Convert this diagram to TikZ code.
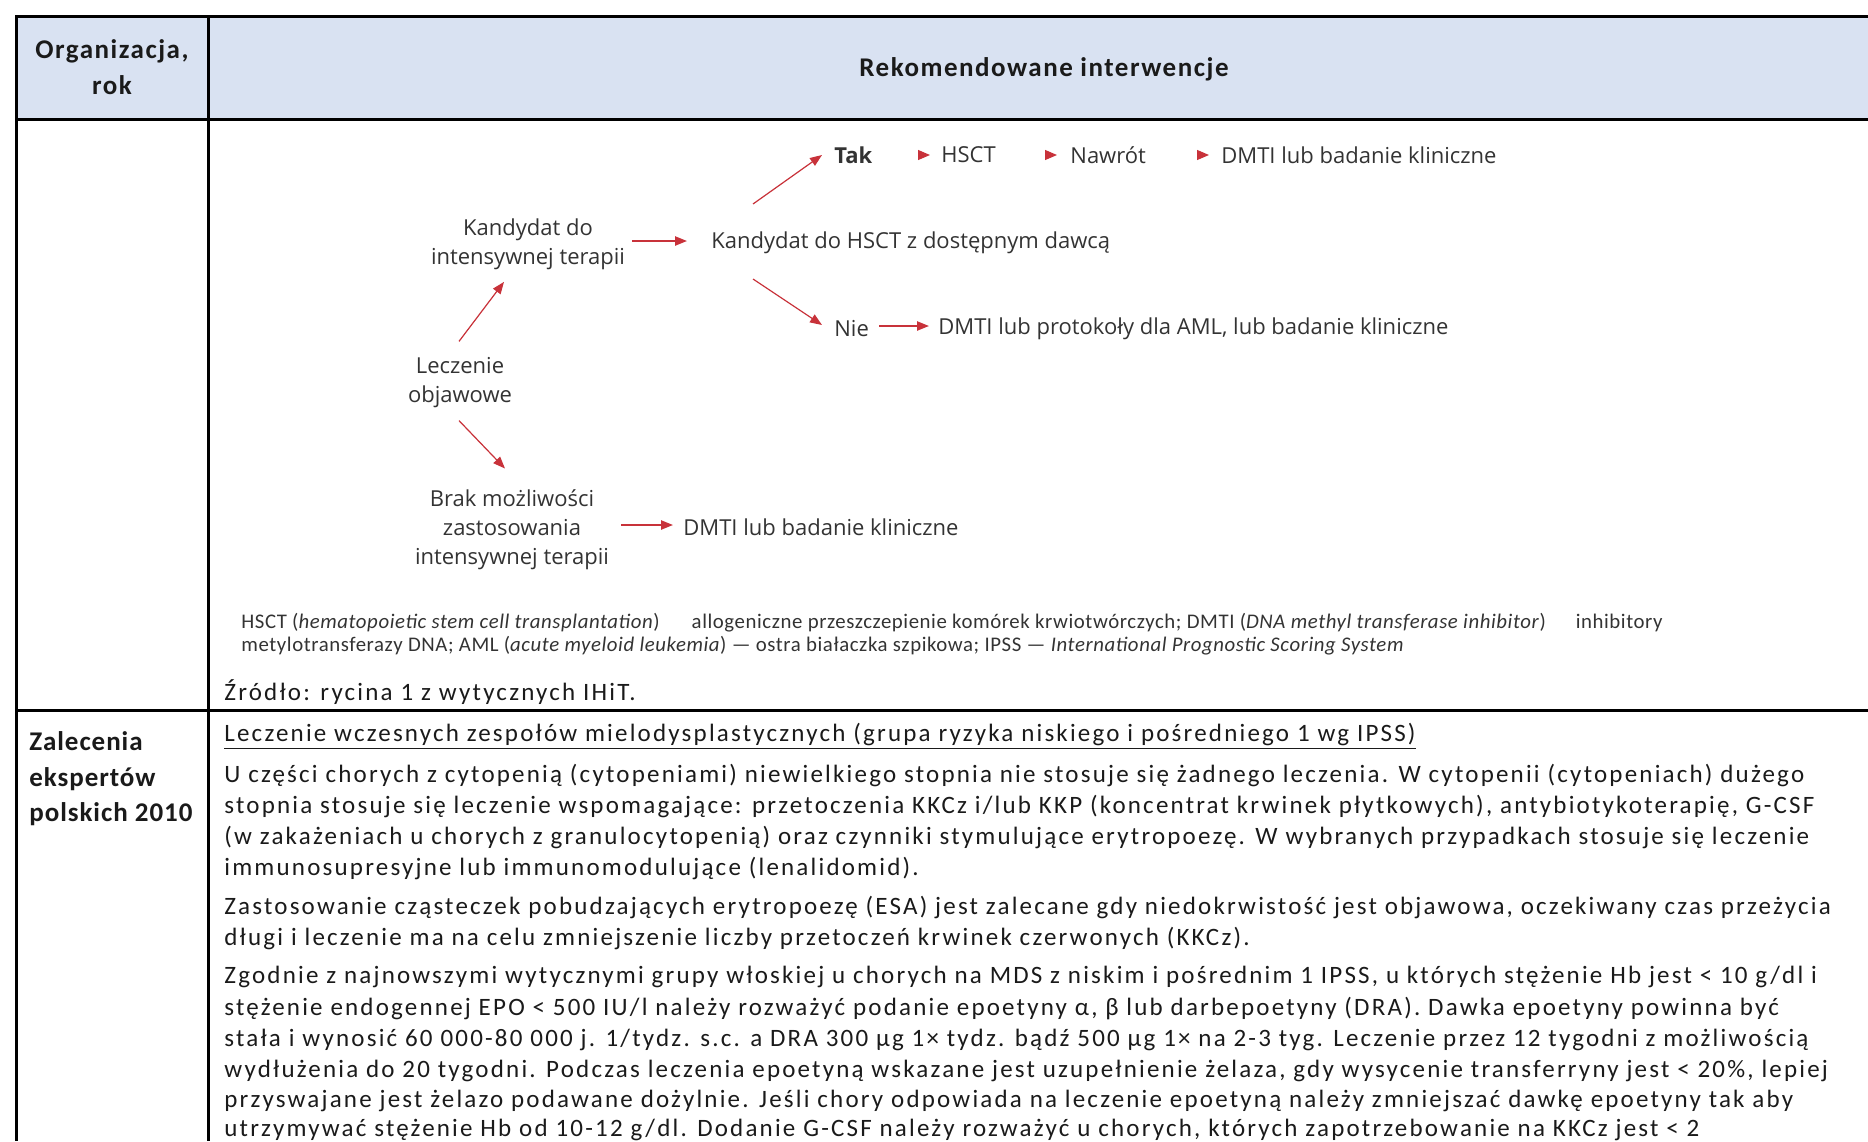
\documentclass[tikz,border=0pt]{standalone}
\usepackage{fontspec}
\setmainfont{Carlito}
\newfontfamily\flowfont{Open Sans}
\newfontfamily\bodyfont[LetterSpace=8.8]{Carlito}
\newfontfamily\headfont[LetterSpace=5.6]{Carlito}
\newfontfamily\sidefont[LetterSpace=3.5]{Carlito}
\newfontfamily\notefont[LetterSpace=2.8]{Carlito}
\usetikzlibrary{arrows.meta,calc}
\definecolor{hdrblue}{HTML}{D9E2F2}
\definecolor{arrred}{HTML}{C8323A}
\definecolor{inkgray}{HTML}{333333}
\definecolor{ink}{HTML}{1A1A1A}

\tikzset{
  rule/.style={line width=1.5pt, black},
  hdrtext/.style={inner sep=0, align=center, text=ink, font=\headfont\bfseries\fontsize{13.5}{18}\selectfont},
  sidetext/.style={inner sep=0, anchor=west, align=left, text=ink, font=\sidefont\bfseries\fontsize{13.5}{17.7}\selectfont},
  bodyline/.style={inner sep=0, anchor=mid west, text=ink, font=\bodyfont\fontsize{12.5}{15.5}\selectfont},
  noteline/.style={inner sep=0, anchor=mid west, text=inkgray, font=\notefont\fontsize{10.4}{12}\selectfont},
  flow/.style={inner sep=0, align=center, text=inkgray, font=\flowfont\fontsize{11}{14.5}\selectfont},
  flowl/.style={flow, anchor=west},
  conn/.style={draw=arrred, line width=0.9pt, -{Triangle[length=6pt,width=4.6pt]}, fill=arrred},
  diag/.style={conn, line width=0.6pt},
  headonly/.style={draw=arrred, fill=arrred, line width=0.6pt, -{Triangle[length=6pt,width=5pt]}}
}

\begin{document}
\begin{tikzpicture}[x=0.5pt,y=-0.5pt]
\useasboundingbox (0,0) rectangle (1868,1141);

% table frame and header band
\fill[hdrblue] (16,16) rectangle (1868,119);
\draw[rule] (1868,16) -- (16,16) -- (16,1141);
\draw[rule] (208,16) -- (208,1141);
\draw[rule] (16,119) -- (1868,119);
\draw[rule] (16,710) -- (1868,710);

% header row
\node[hdrtext] (org) at (112,67) {Organizacja,\\rok};
\node[hdrtext] (rek) at (1044,69) {Rekomendowane interwencje};

% flow chart
\node[flow] (kand) at (528,244) {Kandydat do\\intensywnej terapii};
\node[flowl] (hsctd) at (711,243) {Kandydat do HSCT z dostępnym dawcą};
\node[flowl,font=\flowfont\bfseries\fontsize{11}{14.5}\selectfont] (tak) at (834,155) {Tak};
\node[flowl] (hsct) at (941,155) {HSCT};
\node[flowl] (nawrot) at (1070,155) {Nawrót};
\node[flowl] (dmtia) at (1221,155) {DMTI lub badanie kliniczne};
\node[flowl] (nie) at (834,329) {Nie};
\node[flowl] (aml) at (938,329) {DMTI lub protokoły dla AML, lub badanie kliniczne};
\node[flow] (lecz) at (460,383) {Leczenie\\objawowe};
\node[flow] (brak) at (512,530) {Brak możliwości\\zastosowania\\intensywnej terapii};
\node[flowl] (dmtib) at (683,527) {DMTI lub badanie kliniczne};

\draw[diag] ($(lecz.north)+(-1,-16)$) -- ($(kand.south)+(-24,12)$);
\draw[diag] ($(lecz.south)+(-1,12)$) -- ($(brak.north)+(-7,-21)$);
\draw[conn] ($(kand.east)+(7,-3)$) -- ($(hsctd.west)+(-24,-2)$);
\draw[diag] ($(hsctd.west)+(42,-39)$) -- ($(tak.west)+(-12,0)$);
\draw[diag] ($(hsctd.west)+(42,36)$) -- ($(nie.west)+(-12,-4)$);
\draw[conn] ($(nie.east)+(10,-3)$) -- ($(aml.west)+(-9,-3)$);
\draw[conn] ($(brak.east)+(12,-5)$) -- ($(dmtib.west)+(-10,-2)$);
\draw[headonly] ($(hsct.west)+(-23,0)$) -- ($(hsct.west)+(-11,0)$);
\draw[headonly] ($(nawrot.west)+(-25,0)$) -- ($(nawrot.west)+(-13,0)$);
\draw[headonly] ($(dmtia.west)+(-24,0)$) -- ($(dmtia.west)+(-12,0)$);

% abbreviations under the chart
\node[noteline] (notea) at (241,624) {HSCT (\textit{hematopoietic stem cell transplantation})\hspace{16pt}allogeniczne przeszczepienie komórek krwiotwórczych; DMTI (\textit{DNA methyl transferase inhibitor})\hspace{15pt}inhibitory};
\node[noteline] (noteb) at (241,647) {metylotransferazy DNA; AML (\textit{acute myeloid leukemia}) — ostra białaczka szpikowa; IPSS — \textit{International Prognostic Scoring System}};
\node[bodyline] (src) at (224,696) {Źródło: rycina 1 z wytycznych IHiT.};

% second row
\node[sidetext] (zal) at (29,779) {Zalecenia\\ekspertów\\polskich 2010};
\node[bodyline] (tyt) at (224,737) {\underline{Leczenie wczesnych zespołów mielodysplastycznych (grupa ryzyka niskiego i pośredniego 1 wg IPSS)}};
\node[bodyline] (pa1) at (224,778) {U części chorych z cytopenią (cytopeniami) niewielkiego stopnia nie stosuje się żadnego leczenia. W cytopenii (cytopeniach) dużego};
\node[bodyline] (pa2) at (224,809) {stopnia stosuje się leczenie wspomagające: przetoczenia KKCz i/lub KKP (koncentrat krwinek płytkowych), antybiotykoterapię, G-CSF};
\node[bodyline] (pa3) at (224,840) {(w zakażeniach u chorych z granulocytopenią) oraz czynniki stymulujące erytropoezę. W wybranych przypadkach stosuje się leczenie};
\node[bodyline] (pa4) at (224,871) {immunosupresyjne lub immunomodulujące (lenalidomid).};
\node[bodyline] (pb1) at (224,910) {Zastosowanie cząsteczek pobudzających erytropoezę (ESA) jest zalecane gdy niedokrwistość jest objawowa, oczekiwany czas przeżycia};
\node[bodyline] (pb2) at (224,941) {długi i leczenie ma na celu zmniejszenie liczby przetoczeń krwinek czerwonych (KKCz).};
\node[bodyline] (pc1) at (224,979) {Zgodnie z najnowszymi wytycznymi grupy włoskiej u chorych na MDS z niskim i pośrednim 1 IPSS, u których stężenie Hb jest < 10 g/dl i};
\node[bodyline] (pc2) at (224,1011) {stężenie endogennej EPO < 500 IU/l należy rozważyć podanie epoetyny α, β lub darbepoetyny (DRA). Dawka epoetyny powinna być};
\node[bodyline] (pc3) at (224,1042) {stała i wynosić 60 000-80 000 j. 1/tydz. s.c. a DRA 300 μg 1× tydz. bądź 500 μg 1× na 2-3 tyg. Leczenie przez 12 tygodni z możliwością};
\node[bodyline] (pc4) at (224,1073) {wydłużenia do 20 tygodni. Podczas leczenia epoetyną wskazane jest uzupełnienie żelaza, gdy wysycenie transferryny jest < 20\%, lepiej};
\node[bodyline] (pc5) at (224,1103) {przyswajane jest żelazo podawane dożylnie. Jeśli chory odpowiada na leczenie epoetyną należy zmniejszać dawkę epoetyny tak aby};
\node[bodyline] (pc6) at (224,1132) {utrzymywać stężenie Hb od 10-12 g/dl. Dodanie G-CSF należy rozważyć u chorych, których zapotrzebowanie na KKCz jest < 2};
\end{tikzpicture}
\end{document}
